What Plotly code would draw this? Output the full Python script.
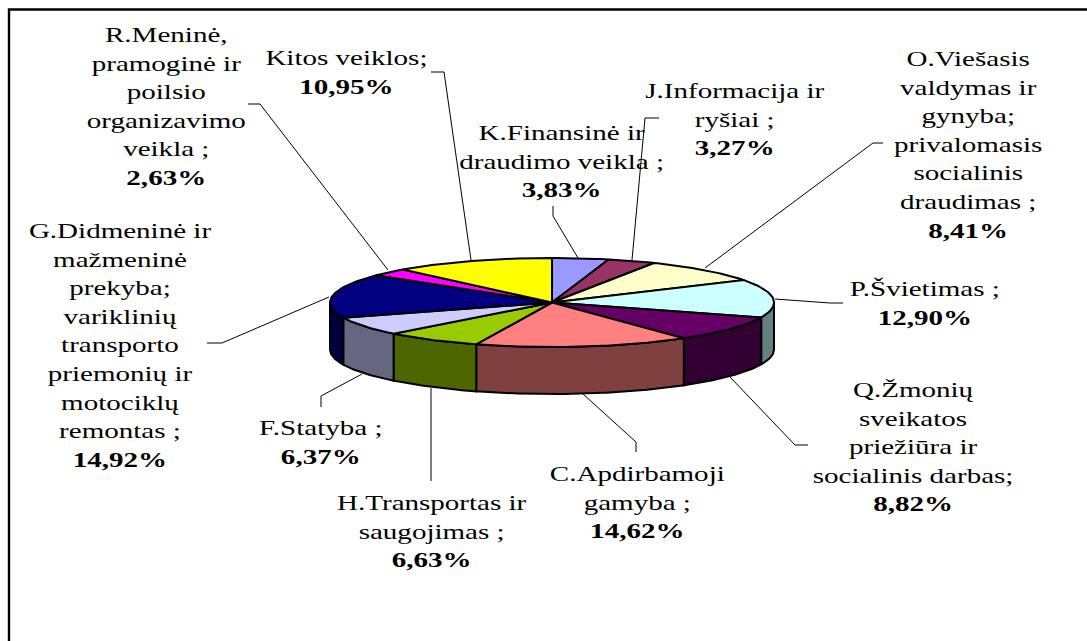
import math
import plotly.graph_objects as go

categories = ["K.Finansinė ir<br>draudimo veikla ;", "J.Informacija ir<br>ryšiai ;",
              "O.Viešasis<br>valdymas ir<br>gynyba;<br>privalomasis<br>socialinis<br>draudimas ;",
              "P.Švietimas ;", "Q.Žmonių<br>sveikatos<br>priežiūra ir<br>socialinis darbas;",
              "C.Apdirbamoji<br>gamyba ;", "H.Transportas ir<br>saugojimas ;", "F.Statyba ;",
              "G.Didmeninė ir<br>mažmeninė<br>prekyba;<br>variklinių<br>transporto<br>priemonių ir<br>motociklų<br>remontas ;",
              "R.Meninė,<br>pramoginė ir<br>poilsio<br>organizavimo<br>veikla ;", "Kitos veiklos;"]
values = [3.83, 3.27, 8.41, 12.90, 8.82, 14.62, 6.63, 6.37, 14.92, 2.63, 10.95]
value_labels = ["3,83%", "3,27%", "8,41%", "12,90%", "8,82%", "14,62%", "6,63%", "6,37%", "14,92%", "2,63%", "10,95%"]
top_colors = ["#9999FF", "#993366", "#FFFFCC", "#CCFFFF", "#660066", "#FF8080", "#99CC00", "#CCCCFF", "#000080", "#FF00FF", "#FFFF00"]
side_colors = ["#4D4D80", "#4D1A33", "#808066", "#668080", "#330033", "#804040", "#4D6600", "#666680", "#000040", "#800080", "#808000"]

CX, CY, RX, RY, DEPTH = 552, 302.5, 222, 44.5, 47
label_x = [561, 735, 968, 925, 913, 637, 432, 321, 120, 166, 346]
label_y = [161, 118.5, 144, 302.5, 446.5, 501.5, 531, 441.5, 344.5, 105.5, 72]
leaders = [
    [(553, 206), (553, 216), (578, 258)],
    [(659, 118), (645, 118), (632, 260)],
    [(883, 143), (873, 143), (705, 268)],
    [(843, 303), (830, 303), (775, 299)],
    [(808, 445), (795, 445), (730, 377)],
    [(636, 452), (636, 442), (583, 394)],
    [(431, 481), (431, 388)],
    [(321, 407), (321, 396), (362, 374)],
    [(207, 343), (222, 343), (329, 297)],
    [(248, 104), (260, 104), (388, 270)],
    [(431, 72), (444, 72), (471, 260)],
]


def pt(deg, dy=0):
    a = math.radians(deg)
    return CX + RX * math.sin(a), CY - RY * math.cos(a) + dy


def arc(a0, a1, dy=0):
    n = max(2, int(abs(a1 - a0)) + 1)
    return [pt(a0 + (a1 - a0) * i / (n - 1), dy) for i in range(n)]


total = sum(values)
bounds = [0]
for v in values:
    bounds.append(bounds[-1] + v / total * 360)

fig = go.Figure()

# side walls
for i, name in enumerate(categories):
    a0, a1 = max(bounds[i], 90), min(bounds[i + 1], 270)
    if a1 <= a0:
        continue
    poly = arc(a0, a1) + arc(a1, a0, DEPTH)
    poly.append(poly[0])
    fig.add_trace(go.Scatter(x=[p[0] for p in poly], y=[p[1] for p in poly], mode="lines", fill="toself",
                             fillcolor=side_colors[i], line=dict(color="black", width=2),
                             hoverinfo="skip", showlegend=False))

# top faces
for i, name in enumerate(categories):
    poly = [(CX, CY)] + arc(bounds[i], bounds[i + 1]) + [(CX, CY)]
    fig.add_trace(go.Scatter(x=[p[0] for p in poly], y=[p[1] for p in poly], mode="lines", fill="toself",
                             fillcolor=top_colors[i], line=dict(color="black", width=2),
                             name=name.replace("<br>", " "), hoverinfo="name", showlegend=False))

# leader lines
for pts in leaders:
    fig.add_trace(go.Scatter(x=[p[0] for p in pts], y=[p[1] for p in pts], mode="lines",
                             line=dict(color="black", width=1), hoverinfo="skip", showlegend=False))

# frame (left and top edges only, as in the reference)
fig.add_trace(go.Scatter(x=[9, 9, 1087], y=[641, 9.5, 9.5], mode="lines", line=dict(color="black", width=2.4),
                         hoverinfo="skip", showlegend=False))

for name, lab, x, y in zip(categories, value_labels, label_x, label_y):
    fig.add_annotation(x=x, y=y, xref="x", yref="y", text=f"{name}<br><b>{lab}</b>", showarrow=False,
                       xanchor="center", yanchor="middle", align="center",
                       font=dict(family="Liberation Serif", size=22, color="black"))

fig.update_layout(width=1087, height=641, autosize=False, margin=dict(l=0, r=0, t=0, b=0),
                  paper_bgcolor="white", plot_bgcolor="white",
                  xaxis=dict(range=[0, 1087], visible=False, fixedrange=True),
                  yaxis=dict(range=[641, 0], visible=False, fixedrange=True))

stretch = """
document.body.style.margin = '0';
document.documentElement.style.overflow = 'hidden';
document.querySelectorAll('.annotation-text-g text').forEach(function (el) {
  el.style.transformBox = 'fill-box';
  el.style.transformOrigin = 'center';
  el.style.transform = 'scaleX(1.32)';
});
"""
fig.write_html("out.html", post_script=stretch, config={"displayModeBar": False})
